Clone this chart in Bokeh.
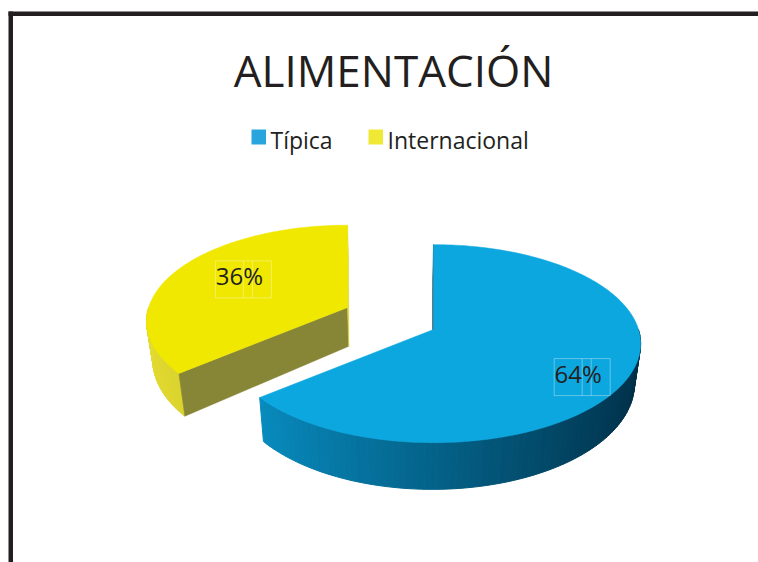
import numpy as np
from bokeh.plotting import figure
from bokeh.models import Range1d
from bokeh.core.properties import value
from bokeh.embed import file_html
from bokeh.resources import INLINE

# ---------------- data ----------------
title_text = "ALIMENTACIÓN"
categories = ["Típica", "Internacional"]
values = [64, 36]
pct_labels = ["64%", "36%"]

# ---------------- style / layout ----------------
FONT = "Open Sans"
TEXT_COLOR = "#231f20"
top_colors = ["#0ca7df", "#f0e800"]
legend_colors = ["#29a5de", "#efe934"]
wall_light = [(8, 150, 204), (228, 220, 48)]
wall_dark = [(0, 46, 70), (150, 146, 40)]
# cut-face colours: (leading edge face, trailing edge face)
cut_colors = [("#00384f", "#0a6a94"), ("#878536", "#dcd62a")]

W, H_FIG = 758, 562
centers = [(433, 329), (347, 307)]
scales = [1.0, 0.97]
A, B, K = 205.0, 97.0, 0.143      # ellipse half-axes, perspective factor
DEPTH = 40.0                      # thickness of the pie
XCAM, EPS = 395.0, 0.025          # horizontal vanishing for the side walls
label_off = [(5, 15), (16, -2)]   # offsets of the label centre
LABEL_R = 0.72
LABEL_FS = 24

p = figure(width=W, height=H_FIG, output_backend="svg", toolbar_location=None,
           x_range=Range1d(0, W), y_range=Range1d(H_FIG, 0),
           min_border=0, x_axis_type=None, y_axis_type=None)
p.outline_line_color = None
p.xgrid.visible = False
p.ygrid.visible = False
p.background_fill_color = "white"
p.border_fill_color = "white"

# frame of the original picture
p.quad(left=[8, 8], right=[12.5, W + 5], top=[11, 11], bottom=[H_FIG + 5, 15.5],
       fill_color="#231f20", line_color=None)

# title
p.text(x=[393], y=[69.5], text=[title_text], text_font=value(FONT),
       text_font_size="44px", text_align="center", text_baseline="middle",
       text_color=TEXT_COLOR)

# legend
leg_x = [251, 368]
for i, cat in enumerate(categories):
    p.quad(left=[leg_x[i]], right=[leg_x[i] + 14.5], top=[129], bottom=[144],
           fill_color=legend_colors[i], line_color=None)
    p.text(x=[leg_x[i] + 19], y=[139.5], text=[cat], text_font=value(FONT),
           text_font_size="23px", text_align="left", text_baseline="middle",
           text_color=TEXT_COLOR)


def proj(i, theta, r=1.0):
    cx, cy = centers[i]
    sf = scales[i]
    c, s = np.cos(theta), np.sin(theta)
    sc = 1.0 / (1.0 + K * r * c)
    return cx + A * sf * r * s * sc, cy - B * sf * r * c * sc, sc


def drop(i, x, y, sc):
    d = DEPTH * scales[i] * sc
    return x + (XCAM - x) * EPS * sc, y + d


def mix(c0, c1, t):
    return "#%02x%02x%02x" % tuple(int(round(a + (b - a) * t)) for a, b in zip(c0, c1))


total = float(sum(values))
bounds = np.concatenate([[0.0], np.cumsum(values) / total * 2 * np.pi])

# draw back slice (yellow) first, then the front one
order = [1, 0]
for i in order:
    t0, t1 = bounds[i], bounds[i + 1]
    # outer wall: visible between 90 and 270 degrees
    a0, a1 = max(t0, np.pi / 2), min(t1, 3 * np.pi / 2)
    if a1 > a0:
        n = 90
        ts = np.linspace(a0, a1, n + 1)
        xs_l, ys_l, cols = [], [], []
        for j in range(n):
            ta, tb = ts[j], ts[j + 1]
            xa, ya, sa = proj(i, ta)
            xb, yb, sb = proj(i, tb)
            xa2, ya2 = drop(i, xa, ya, sa)
            xb2, yb2 = drop(i, xb, yb, sb)
            xs_l.append([xa, xb, xb2, xa2])
            ys_l.append([ya, yb, yb2, ya2])
            tm = 0.5 * (ta + tb)
            t = (1 - np.sin(tm)) / 2.0
            cols.append(mix(wall_dark[i], wall_light[i], t))
        p.patches(xs=xs_l, ys=ys_l, fill_color=cols, line_color=cols, line_width=1)
    # cut faces
    cx, cy = centers[i]
    cx2, cy2 = drop(i, cx, cy, 1.0)
    for edge, th in enumerate([t0, t1]):
        nd = th - np.pi / 2 if edge == 0 else th + np.pi / 2
        facing = np.cos(nd) < 1e-6
        if facing:
            xo, yo, so = proj(i, th)
            xo2, yo2 = drop(i, xo, yo, so)
            p.patch(x=[cx, xo, xo2, cx2], y=[cy, yo, yo2, cy2],
                    fill_color=cut_colors[i][edge], line_color=cut_colors[i][edge],
                    line_width=0.5)
    # top face
    ts = np.linspace(t0, t1, 200)
    xt, yt, _ = proj(i, ts)
    p.patch(x=np.concatenate([[cx], xt]), y=np.concatenate([[cy], yt]),
            fill_color=top_colors[i], line_color=top_colors[i], line_width=0.5)

# percentage labels with their faint text boxes
for i in range(len(values)):
    tm = 0.5 * (bounds[i] + bounds[i + 1])
    lx, ly, _ = proj(i, tm, LABEL_R)
    lx += label_off[i][0]
    ly += label_off[i][1]
    bl, br = lx - 24, lx + 32
    bt, bb = ly - 17, ly + 20
    p.quad(left=[bl], right=[br], top=[bt], bottom=[bb], fill_color=None,
           line_color="white", line_alpha=0.35, line_width=1)
    p.segment(x0=[bl + 28, bl + 37], y0=[bt, bt], x1=[bl + 28, bl + 37], y1=[bb, bb],
              line_color="white", line_alpha=0.35, line_width=1)
    p.text(x=[lx], y=[ly - 0.08 * LABEL_FS], text=[pct_labels[i]], text_font=value(FONT),
           text_font_size=f"{LABEL_FS}px", text_align="center", text_baseline="middle",
           text_color=TEXT_COLOR)

open("out.html", "w").write(file_html(p, INLINE))
